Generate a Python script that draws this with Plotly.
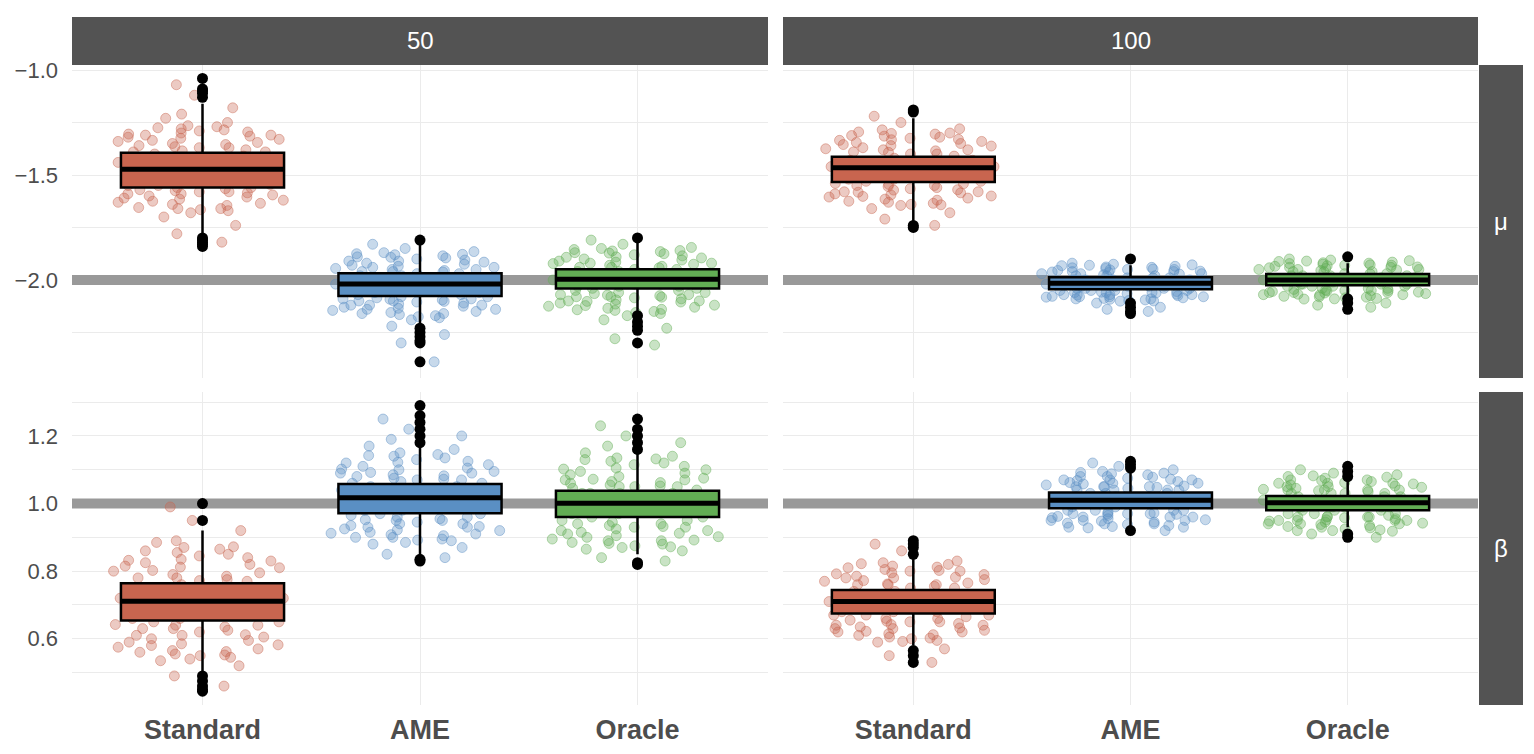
import plotly.graph_objects as go

# ---------------- data ----------------
methods = ["Standard", "AME", "Oracle"]
sizes = ["50", "100"]
params = ["μ", "β"]
truth = {"μ": -2.0, "β": 1.0}
colors = {"Standard": (200, 101, 79), "AME": (90, 143, 195), "Oracle": (98, 173, 84)}

# jittered estimates (a sample of each cloud)
mu50_standard = [-1.47, -1.52, -1.38, -1.61, -1.44, -1.29, -1.55, -1.41, -1.66, -1.50, -1.35, -1.58, -1.46, -1.23, -1.70,
                 -1.49, -1.33, -1.62, -1.43, -1.53, -1.18, -1.39, -1.57, -1.48, -1.31, -1.74, -1.45, -1.60, -1.36, -1.51,
                 -1.27, -1.64, -1.42, -1.55, -1.12, -1.49, -1.37, -1.68, -1.46, -1.32, -1.59, -1.44, -1.78, -1.40, -1.53,
                 -1.25, -1.63, -1.48, -1.34, -1.56, -1.07, -1.47, -1.82, -1.39, -1.58, -1.30, -1.51, -1.66, -1.43, -1.21,
                 -1.28, -1.615, -1.335, -1.565, -1.295, -1.655, -1.37, -1.59, -1.315, -1.635, -1.265, -1.575, -1.355,
                 -1.67, -1.305, -1.605, -1.385, -1.545, -1.285, -1.645, -1.345, -1.585, -1.325, -1.625, -1.275, -1.56,
                 -1.365, -1.665, -1.31, -1.595]
mu50_ame = [-2.02, -1.97, -2.08, -1.93, -2.05, -2.12, -1.99, -2.03, -1.88, -2.15, -2.01, -2.06, -1.95, -2.10, -2.00,
            -1.91, -2.18, -2.04, -1.98, -2.07, -1.85, -2.13, -2.02, -1.96, -2.09, -2.22, -2.01, -1.94, -2.11, -2.03,
            -1.90, -2.16, -2.05, -1.99, -2.26, -2.00, -1.87, -2.08, -1.97, -2.14, -2.04, -1.92, -2.19, -2.02, -2.06,
            -1.83, -2.10, -1.98, -2.30, -2.03, -1.95, -2.12, -2.07, -2.00, -1.89, -2.17, -2.05, -2.39, -1.96, -2.09,
            -1.875, -2.095, -1.935, -2.145, -1.905, -2.085, -1.955, -2.165, -1.885, -2.115, -1.925, -2.135, -1.865,
            -2.105, -1.945, -2.155, -1.895, -2.125, -1.915, -2.175, -1.878, -2.092, -1.94, -2.14, -1.91, -2.12,
            -1.962, -2.16, -1.892, -2.102]
mu50_oracle = [-2.00, -1.96, -2.05, -1.92, -2.03, -2.09, -1.98, -2.01, -1.88, -2.12, -1.99, -2.04, -1.94, -2.08, -1.97,
               -1.90, -2.15, -2.02, -1.95, -2.06, -1.85, -2.11, -2.00, -1.93, -2.07, -2.19, -1.99, -1.91, -2.10, -2.01,
               -1.87, -2.14, -2.03, -1.97, -2.23, -1.98, -1.83, -2.05, -1.95, -2.13, -2.02, -1.89, -2.17, -2.00, -2.04,
               -1.81, -2.08, -1.96, -2.28, -2.01, -1.94, -2.10, -2.06, -1.99, -1.86, -2.16, -2.03, -2.31, -1.92, -2.07,
               -1.855, -2.075, -1.915, -2.125, -1.885, -2.065, -1.935, -2.145, -1.865, -2.095, -1.905, -2.115, -1.845,
               -2.085, -1.925, -2.135, -1.875, -2.105, -1.895, -2.155, -1.862, -2.072, -1.922, -2.122, -1.892, -2.102,
               -1.942, -2.142, -1.872, -2.082]
mu100_standard = [-1.47, -1.43, -1.52, -1.38, -1.50, -1.57, -1.45, -1.48, -1.34, -1.61, -1.46, -1.51, -1.40, -1.55, -1.44,
                  -1.36, -1.64, -1.49, -1.42, -1.53, -1.30, -1.59, -1.47, -1.39, -1.54, -1.68, -1.46, -1.37, -1.58, -1.48,
                  -1.32, -1.62, -1.50, -1.44, -1.71, -1.45, -1.28, -1.52, -1.41, -1.60, -1.49, -1.35, -1.66, -1.47, -1.51,
                  -1.25, -1.56, -1.43, -1.74, -1.48, -1.40, -1.58, -1.53, -1.46, -1.33, -1.63, -1.50, -1.22, -1.38, -1.55,
                  -1.295, -1.545, -1.355, -1.605, -1.315, -1.565, -1.385, -1.635, -1.305, -1.585, -1.345, -1.625, -1.285,
                  -1.555, -1.375, -1.645, -1.325, -1.595, -1.335, -1.615, -1.302, -1.542, -1.362, -1.602, -1.332, -1.582,
                  -1.392, -1.642, -1.312, -1.572]
mu100_ame = [-2.02, -2.00, -2.04, -1.98, -2.03, -2.06, -2.01, -2.02, -1.96, -2.08, -2.01, -2.04, -1.99, -2.06, -2.00,
             -1.97, -2.09, -2.03, -1.99, -2.05, -1.94, -2.07, -2.02, -1.98, -2.05, -2.11, -2.01, -1.97, -2.07, -2.02,
             -1.95, -2.09, -2.03, -2.00, -2.13, -2.01, -1.93, -2.04, -1.99, -2.08, -2.03, -1.96, -2.10, -2.02, -2.04,
             -1.92, -2.06, -2.00, -2.15, -2.02, -1.98, -2.07, -2.05, -2.01, -1.95, -2.08, -2.03, -2.14, -1.97, -2.05,
             -1.925, -2.055, -1.955, -2.085, -1.935, -2.065, -1.975, -2.095, -1.945, -2.075, -1.965, -2.092, -1.932,
             -2.062, -1.962, -2.082, -1.942, -2.072, -1.952, -2.101, -1.928, -2.058, -1.958, -2.088, -1.938, -2.068,
             -1.972, -2.098, -1.948, -2.078]
mu100_oracle = [-2.00, -1.98, -2.02, -1.96, -2.01, -2.04, -1.99, -2.00, -1.94, -2.06, -1.99, -2.02, -1.97, -2.04, -1.98,
                -1.95, -2.07, -2.01, -1.97, -2.03, -1.92, -2.05, -2.00, -1.96, -2.03, -2.09, -1.99, -1.95, -2.05, -2.00,
                -1.93, -2.07, -2.01, -1.98, -2.11, -1.99, -1.91, -2.02, -1.97, -2.06, -2.01, -1.94, -2.08, -2.00, -2.02,
                -1.90, -2.04, -1.98, -2.13, -2.00, -1.96, -2.05, -2.03, -1.99, -1.93, -2.06, -2.01, -2.12, -1.95, -2.03,
                -1.905, -2.045, -1.935, -2.075, -1.915, -2.055, -1.955, -2.085, -1.925, -2.065, -1.945, -2.082, -1.912,
                -2.052, -1.942, -2.072, -1.922, -2.062, -1.932, -2.091, -1.908, -2.048, -1.938, -2.078, -1.918, -2.058,
                -1.952, -2.088, -1.928, -2.068]
beta50_standard = [0.71, 0.75, 0.66, 0.80, 0.69, 0.62, 0.73, 0.70, 0.84, 0.58, 0.72, 0.67, 0.77, 0.63, 0.74,
                   0.82, 0.55, 0.68, 0.76, 0.65, 0.87, 0.60, 0.71, 0.79, 0.64, 0.52, 0.72, 0.81, 0.61, 0.70,
                   0.85, 0.57, 0.68, 0.74, 0.49, 0.73, 0.89, 0.66, 0.78, 0.59, 0.69, 0.83, 0.54, 0.71, 0.67,
                   0.92, 0.63, 0.75, 0.46, 0.70, 0.78, 0.61, 0.65, 0.72, 0.86, 0.56, 0.69, 0.95, 0.99, 0.64,
                   0.545, 0.775, 0.605, 0.835, 0.565, 0.795, 0.635, 0.865, 0.555, 0.815, 0.595, 0.855, 0.535, 0.785,
                   0.625, 0.885, 0.575, 0.825, 0.585, 0.845, 0.552, 0.772, 0.612, 0.832, 0.582, 0.812, 0.642, 0.872,
                   0.562, 0.802]
beta50_ame = [1.02, 1.05, 0.98, 1.09, 1.00, 0.94, 1.04, 1.01, 1.13, 0.91, 1.03, 0.99, 1.07, 0.95, 1.05,
              1.11, 0.89, 1.00, 1.06, 0.97, 1.16, 0.93, 1.02, 1.10, 0.96, 0.87, 1.03, 1.12, 0.94, 1.01,
              1.14, 0.90, 1.00, 1.06, 0.85, 1.04, 1.19, 0.98, 1.08, 0.92, 1.01, 1.15, 0.88, 1.02, 0.99,
              1.22, 0.95, 1.07, 0.84, 1.03, 1.09, 0.93, 0.97, 1.04, 1.17, 0.90, 1.00, 1.25, 1.20, 0.96,
              0.895, 1.065, 0.935, 1.115, 0.905, 1.085, 0.955, 1.135, 0.885, 1.075, 0.925, 1.125, 0.915, 1.095,
              0.945, 1.145, 0.908, 1.105, 0.965, 1.072, 0.892, 1.082, 0.932, 1.122, 0.912, 1.102, 0.952, 1.142,
              0.922, 1.092]
beta50_oracle = [1.00, 1.03, 0.97, 1.07, 0.99, 0.93, 1.02, 1.00, 1.11, 0.90, 1.01, 0.98, 1.05, 0.94, 1.03,
                 1.09, 0.88, 0.99, 1.04, 0.96, 1.14, 0.92, 1.00, 1.08, 0.95, 0.86, 1.02, 1.10, 0.93, 1.00,
                 1.12, 0.89, 0.99, 1.05, 0.84, 1.03, 1.17, 0.97, 1.06, 0.91, 1.00, 1.13, 0.87, 1.01, 0.98,
                 1.20, 0.94, 1.05, 0.83, 1.02, 1.07, 0.92, 0.96, 1.03, 1.15, 0.89, 0.99, 1.23, 1.18, 0.95,
                 0.865, 1.045, 0.915, 1.095, 0.885, 1.065, 0.935, 1.125, 0.875, 1.055, 0.905, 1.105, 0.895, 1.075,
                 0.925, 1.135, 0.872, 1.085, 0.945, 1.115, 0.882, 1.052, 0.912, 1.102, 0.892, 1.072, 0.932, 1.132,
                 0.902, 1.062]
beta100_standard = [0.71, 0.73, 0.68, 0.76, 0.70, 0.65, 0.72, 0.71, 0.79, 0.63, 0.72, 0.69, 0.75, 0.66, 0.73,
                    0.78, 0.61, 0.70, 0.74, 0.67, 0.81, 0.64, 0.71, 0.77, 0.67, 0.59, 0.72, 0.78, 0.65, 0.70,
                    0.80, 0.62, 0.70, 0.74, 0.57, 0.72, 0.83, 0.68, 0.76, 0.63, 0.71, 0.80, 0.60, 0.71, 0.69,
                    0.86, 0.66, 0.75, 0.55, 0.71, 0.76, 0.64, 0.67, 0.73, 0.82, 0.62, 0.70, 0.88, 0.53, 0.68,
                    0.595, 0.755, 0.635, 0.795, 0.605, 0.775, 0.655, 0.815, 0.615, 0.765, 0.645, 0.805, 0.592, 0.785,
                    0.625, 0.825, 0.612, 0.762, 0.665, 0.802, 0.602, 0.772, 0.642, 0.812, 0.622, 0.792, 0.652, 0.822,
                    0.632, 0.782]
beta100_ame = [1.01, 1.03, 0.99, 1.05, 1.00, 0.97, 1.02, 1.01, 1.07, 0.95, 1.02, 1.00, 1.04, 0.97, 1.03,
               1.06, 0.94, 1.00, 1.04, 0.98, 1.08, 0.96, 1.01, 1.05, 0.98, 0.93, 1.02, 1.06, 0.97, 1.01,
               1.07, 0.95, 1.00, 1.04, 0.93, 1.02, 1.09, 0.99, 1.05, 0.96, 1.01, 1.07, 0.94, 1.01, 1.00,
               1.10, 0.97, 1.04, 0.92, 1.02, 1.05, 0.96, 0.98, 1.03, 1.08, 0.95, 1.00, 1.11, 1.12, 0.98,
               0.935, 1.045, 0.955, 1.075, 0.945, 1.055, 0.975, 1.085, 0.932, 1.065, 0.965, 1.095, 0.942, 1.048,
               0.958, 1.078, 0.948, 1.058, 0.968, 1.088, 0.938, 1.052, 0.962, 1.072, 0.952, 1.062, 0.972, 1.092,
               0.928, 1.068]
beta100_oracle = [1.00, 1.02, 0.98, 1.04, 0.99, 0.96, 1.01, 1.00, 1.06, 0.95, 1.01, 0.99, 1.03, 0.96, 1.02,
                  1.05, 0.94, 0.99, 1.03, 0.97, 1.07, 0.95, 1.00, 1.04, 0.97, 0.92, 1.01, 1.05, 0.96, 1.00,
                  1.06, 0.94, 0.99, 1.03, 0.91, 1.01, 1.08, 0.98, 1.04, 0.95, 1.00, 1.06, 0.93, 1.00, 0.99,
                  1.09, 0.96, 1.03, 0.90, 1.01, 1.04, 0.95, 0.97, 1.02, 1.07, 0.94, 0.99, 1.10, 0.92, 0.98,
                  0.925, 1.035, 0.945, 1.065, 0.935, 1.045, 0.965, 1.075, 0.922, 1.055, 0.955, 1.085, 0.932, 1.038,
                  0.948, 1.068, 0.938, 1.048, 0.958, 1.078, 0.928, 1.042, 0.952, 1.062, 0.942, 1.052, 0.962, 1.082,
                  0.918, 1.058]

# box statistics: [q1, median, q3, lower whisker end, upper whisker end]
mu50_standard_box = [-1.559, -1.473, -1.394, -1.78, -1.16]
mu50_ame_box = [-2.076, -2.019, -1.968, -2.21, -1.83]
mu50_oracle_box = [-2.041, -1.997, -1.949, -2.16, -1.82]
mu100_standard_box = [-1.533, -1.465, -1.413, -1.72, -1.23]
mu100_ame_box = [-2.044, -2.016, -1.987, -2.10, -1.93]
mu100_oracle_box = [-2.025, -2.000, -1.971, -2.08, -1.92]
beta50_standard_box = [0.654, 0.711, 0.764, 0.50, 0.92]
beta50_ame_box = [0.971, 1.017, 1.058, 0.85, 1.17]
beta50_oracle_box = [0.960, 1.001, 1.038, 0.85, 1.15]
beta100_standard_box = [0.675, 0.710, 0.744, 0.58, 0.84]
beta100_ame_box = [0.986, 1.010, 1.033, 0.93, 1.09]
beta100_oracle_box = [0.980, 1.002, 1.022, 0.93, 1.07]

# outliers
mu50_standard_out = [-1.04, -1.09, -1.10, -1.11, -1.13, -1.80, -1.81, -1.82, -1.83, -1.84]
mu50_ame_out = [-1.81, -2.23, -2.25, -2.27, -2.29, -2.30, -2.39]
mu50_oracle_out = [-1.80, -2.17, -2.20, -2.22, -2.24, -2.30]
mu100_standard_out = [-1.19, -1.20, -1.74, -1.75]
mu100_ame_out = [-1.90, -2.11, -2.13, -2.15, -2.16]
mu100_oracle_out = [-1.89, -2.09, -2.11, -2.14]
beta50_standard_out = [1.00, 0.95, 0.49, 0.475, 0.46, 0.45, 0.445]
beta50_ame_out = [1.18, 1.20, 1.22, 1.24, 1.26, 1.29, 0.835, 0.83]
beta50_oracle_out = [1.16, 1.18, 1.20, 1.22, 1.25, 0.825, 0.82]
beta100_standard_out = [0.85, 0.87, 0.88, 0.89, 0.565, 0.55, 0.53]
beta100_ame_out = [1.105, 1.115, 1.125, 0.92]
beta100_oracle_out = [1.08, 1.095, 1.11, 0.90, 0.91]

groups = {
    ("μ", "50"): {"Standard": (mu50_standard, mu50_standard_box, mu50_standard_out),
                  "AME": (mu50_ame, mu50_ame_box, mu50_ame_out),
                  "Oracle": (mu50_oracle, mu50_oracle_box, mu50_oracle_out)},
    ("μ", "100"): {"Standard": (mu100_standard, mu100_standard_box, mu100_standard_out),
                   "AME": (mu100_ame, mu100_ame_box, mu100_ame_out),
                   "Oracle": (mu100_oracle, mu100_oracle_box, mu100_oracle_out)},
    ("β", "50"): {"Standard": (beta50_standard, beta50_standard_box, beta50_standard_out),
                  "AME": (beta50_ame, beta50_ame_box, beta50_ame_out),
                  "Oracle": (beta50_oracle, beta50_oracle_box, beta50_oracle_out)},
    ("β", "100"): {"Standard": (beta100_standard, beta100_standard_box, beta100_standard_out),
                   "AME": (beta100_ame, beta100_ame_box, beta100_ame_out),
                   "Oracle": (beta100_oracle, beta100_oracle_box, beta100_oracle_out)},
}

# ---------------- layout geometry (page has an 8px body margin) ----------------
OFF = 8
W, H = 1534 - OFF, 754 - OFF
ML, MR, MT, MB = 72 - OFF, W - (1478 - OFF), 65 - OFF, H - (705 - OFF)
PW, PH = W - ML - MR, H - MT - MB
XRANGE = [-0.6, 2.6]


def px_x(p):
    return (p - OFF - ML) / PW


def px_y(p):
    return (H - MB - (p - OFF)) / PH


col_dom = {"50": [0, px_x(768)], "100": [px_x(783), 1]}
row_dom = {"μ": [px_y(378), 1], "β": [0, px_y(392)]}
axis_id = {("μ", "50"): "", ("μ", "100"): "2", ("β", "50"): "3", ("β", "100"): "4"}

STRIP = "#535353"
GRID = "#ebebeb"
TXT = "#4d4d4d"
FONT = "Liberation Sans"
N_BANDS = 5   # the jitter cloud is drawn in value bands so that plotly's jitter spreads evenly


def rgba(c, a):
    return f"rgba({c[0]},{c[1]},{c[2]},{a})"


def bands(vals, n):
    s = sorted(vals)
    step = len(s) / n
    return [s[round(i * step):round((i + 1) * step)] for i in range(n)]


fig = go.Figure()

clouds, boxes, medians, outs = [], [], [], []
for (p, s), grp in groups.items():
    k = axis_id[(p, s)]
    xa, ya = "x" + k, "y" + k
    for m in methods:
        vals, st, out = grp[m]
        c = colors[m]
        for b in bands(vals, N_BANDS):
            clouds.append(go.Box(
                x=[m] * len(b), y=b, xaxis=xa, yaxis=ya,
                boxpoints="all", jitter=1, pointpos=0, width=0.84,
                fillcolor="rgba(0,0,0,0)", line=dict(color="rgba(0,0,0,0)", width=0),
                marker=dict(color=rgba(c, 0.34), size=10, line=dict(color=rgba(c, 0.45), width=1)),
                hoverinfo="skip", showlegend=False))
        boxes.append(go.Box(
            x=[m], q1=[st[0]], median=[st[1]], q3=[st[2]],
            lowerfence=[st[3]], upperfence=[st[4]], xaxis=xa, yaxis=ya,
            width=0.75, whiskerwidth=0, boxpoints=False,
            fillcolor=rgba(c, 1), line=dict(color="black", width=2.5),
            hoverinfo="skip", showlegend=False))
        medians.append(go.Box(
            x=[m], q1=[st[1]], median=[st[1]], q3=[st[1]],
            lowerfence=[st[1]], upperfence=[st[1]], xaxis=xa, yaxis=ya,
            width=0.75, whiskerwidth=0, boxpoints=False,
            fillcolor="rgba(0,0,0,0)", line=dict(color="black", width=5),
            hoverinfo="skip", showlegend=False))
        outs.append(go.Scatter(
            x=[m] * len(out), y=out, xaxis=xa, yaxis=ya, mode="markers",
            marker=dict(color="black", size=11), hoverinfo="skip", showlegend=False))

for t in clouds + boxes + medians + outs:
    fig.add_trace(t)

layout = dict(
    width=W, height=H, margin=dict(l=ML, r=MR, t=MT, b=MB, pad=0, autoexpand=False),
    plot_bgcolor="white", paper_bgcolor="white",
    font=dict(family=FONT, color=TXT),
    showlegend=False, hovermode=False, boxmode="overlay",
)

y_cfg = {
    "μ": dict(range=[-2.467, -0.976], dtick=0.5, tick0=0,
              minor=dict(dtick=0.25, tick0=0, showgrid=True, gridcolor=GRID, gridwidth=1.1)),
    "β": dict(range=[0.404, 1.330], dtick=0.2, tick0=0,
              minor=dict(dtick=0.1, tick0=0, showgrid=True, gridcolor=GRID, gridwidth=1.1)),
}

shapes, annotations = [], []
for (p, s), k in axis_id.items():
    layout["xaxis" + k] = dict(
        domain=col_dom[s], anchor="y" + k, type="category", automargin=False,
        categoryorder="array", categoryarray=methods, range=XRANGE,
        showgrid=True, gridcolor=GRID, gridwidth=1.4, zeroline=False, showline=False,
        ticks="", showticklabels=(p == "β"), ticklabelstandoff=6,
        tickfont=dict(family=FONT, size=27, color=TXT, weight="bold"),
    )
    layout["yaxis" + k] = dict(
        domain=row_dom[p], anchor="x" + k, tickformat=".1f", automargin=False,
        showgrid=True, gridcolor=GRID, gridwidth=1.4, zeroline=False, showline=False,
        ticks="", showticklabels=(s == "50"), ticklabelstandoff=13,
        tickfont=dict(family=FONT, size=22, color=TXT), **y_cfg[p],
    )
    # true-value reference line (above the grid, below the data)
    shapes.append(dict(type="line", xref="x" + k, x0=XRANGE[0], x1=XRANGE[1], yref="y" + k,
                       y0=truth[p], y1=truth[p], line=dict(color="#999999", width=10), layer="between"))

# column strips (top)
for s in sizes:
    k = axis_id[("μ", s)]
    shapes.append(dict(type="rect", xref=f"x{k} domain", x0=0, x1=1, yref="paper",
                       y0=1.0, y1=px_y(17), fillcolor=STRIP, line=dict(width=0), layer="above"))
    annotations.append(dict(text=s, xref=f"x{k} domain", x=0.5, yref="paper", y=(1.0 + px_y(17)) / 2,
                            xanchor="center", yanchor="middle",
                            showarrow=False, font=dict(family=FONT, size=24, color="white")))
# row strips (right)
for p in params:
    k = axis_id[(p, "100")]
    shapes.append(dict(type="rect", xref="paper", x0=px_x(1479), x1=px_x(1523), yref=f"y{k} domain",
                       y0=0, y1=1, fillcolor=STRIP, line=dict(width=0), layer="above"))
    annotations.append(dict(text=p, xref="paper", x=(px_x(1479) + px_x(1523)) / 2, yref=f"y{k} domain", y=0.5,
                            xanchor="center", yanchor="middle",
                            showarrow=False, font=dict(family=FONT, size=24, color="white")))

layout["shapes"] = shapes
layout["annotations"] = annotations
fig.update_layout(**layout)

fig.write_html("out.html")
